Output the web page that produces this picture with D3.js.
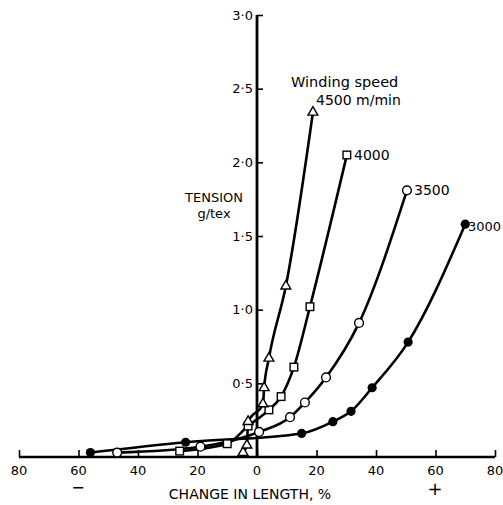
<!DOCTYPE html>
<html><head><meta charset="utf-8">
<script src="https://cdn.jsdelivr.net/npm/d3@7"></script>
<style>body{margin:0;background:#fff}svg{display:block}text{font-family:"DejaVu Sans",sans-serif;fill:#000}</style>
</head><body>
<svg id="c" width="503" height="505"></svg>
<script>
// Data (change in length %, tension g/tex)
const s3000 = [[-56,0.03],[-24,0.10],[15,0.16],[25.5,0.24],[31.6,0.31],[38.7,0.47],[50.8,0.78],[70,1.58]];
const s3500 = [[-47,0.03],[-19,0.07],[0.7,0.17],[11.1,0.27],[16.1,0.37],[23.2,0.54],[34.3,0.91],[50.4,1.81]];
const s4000 = [[-26,0.04],[-10,0.09],[-3,0.21],[4,0.32],[8.1,0.41],[12.4,0.61],[17.8,1.02],[30.2,2.05]];
const s4500 = [[-4.7,0.03],[-3.4,0.08],[-3,0.24],[2,0.36],[2.4,0.47],[4,0.67],[9.7,1.16],[18.8,2.34]];
const seriesNames = ["3000","3500","4000","4500 m/min"];
const markers = ["filled","circle","square","triangle"];
const xTicks = [-80,-60,-40,-20,0,20,40,60,80];
const yTicks = [0.5,1.0,1.5,2.0,2.5,3.0];

const svg = d3.select("#c");
const x = d3.scaleLinear().domain([-80,80]).range([19,495]);
const y = d3.scaleLinear().domain([0,3]).range([457,15]);

// axes
const xAxis = d3.axisTop(x).tickValues(xTicks).tickSize(7).tickFormat(()=> "");
const gx = svg.append("g").attr("transform",`translate(0,${y(0)})`).call(xAxis);
gx.select(".domain").attr("stroke","#000").attr("stroke-width",2.6).attr("d",`M${x(-80)},0H${x(80)}`);
gx.selectAll(".tick line").attr("stroke","#000").attr("stroke-width",1.6);
svg.append("g").selectAll("text").data(xTicks).join("text")
  .attr("x",d=>x(d)).attr("y",y(0)+18).attr("text-anchor","middle")
  .style("font-size","13px").text(d=>Math.abs(d));

const yAxis = d3.axisRight(y).tickValues(yTicks).tickSize(6).tickFormat(()=> "");
const gy = svg.append("g").attr("transform",`translate(${x(0)},0)`).call(yAxis);
gy.select(".domain").attr("stroke","#000").attr("stroke-width",2.8).attr("d",`M0,${y(0)}V${y(3)}`);
gy.selectAll(".tick line").attr("stroke","#000").attr("stroke-width",1.6);
svg.append("g").selectAll("text").data(yTicks).join("text")
  .attr("x",x(0)-4).attr("y",d=>y(d)+4.5).attr("text-anchor","end")
  .style("font-size","13px").text(d=>d.toFixed(1).replace(".","·"));

// curves
const line = d3.line().x(d=>x(d[0])).y(d=>y(d[1])).curve(d3.curveMonotoneX);
const allSeries = [s3000,s3500,s4000,s4500];
allSeries.forEach(s=>{
  svg.append("path").datum(s).attr("d",line).attr("fill","none").attr("stroke","#000").attr("stroke-width",2.6);
});
allSeries.forEach((s,i)=>{
  const g = svg.append("g");
  const m = markers[i];
  s.forEach(d=>{
    const px=x(d[0]), py=y(d[1]);
    if(m==="filled") g.append("circle").attr("cx",px).attr("cy",py).attr("r",4.6).attr("fill","#000");
    else if(m==="circle") g.append("circle").attr("cx",px).attr("cy",py).attr("r",4.4).attr("fill","#fff").attr("stroke","#000").attr("stroke-width",1.4);
    else if(m==="square") g.append("rect").attr("x",px-3.8).attr("y",py-3.8).attr("width",7.6).attr("height",7.6).attr("fill","#fff").attr("stroke","#000").attr("stroke-width",1.4);
    else g.append("path").attr("d",d3.symbol(d3.symbolTriangle,42)()).attr("transform",`translate(${px},${py})`).attr("fill","#fff").attr("stroke","#000").attr("stroke-width",1.4);
  });
});

// labels
const lab = (t,xx,yy,fs,anchor)=>svg.append("text").attr("x",xx).attr("y",yy).attr("text-anchor",anchor||"start").style("font-size",fs+"px").text(t);
lab("Winding speed",291,87,14.5);
lab(seriesNames[3],316,105,14);
lab(seriesNames[2],354,160,14);
lab(seriesNames[1],414,195,14);
lab(seriesNames[0],468,230.5,13);
lab("TENSION",214,202,13,"middle");
lab("g/tex",214,218,13,"middle");
lab("CHANGE IN LENGTH, %",250,499,14,"middle");
lab("−",78,493,16,"middle");
lab("+",435,495,18,"middle");
</script>
</body></html>
